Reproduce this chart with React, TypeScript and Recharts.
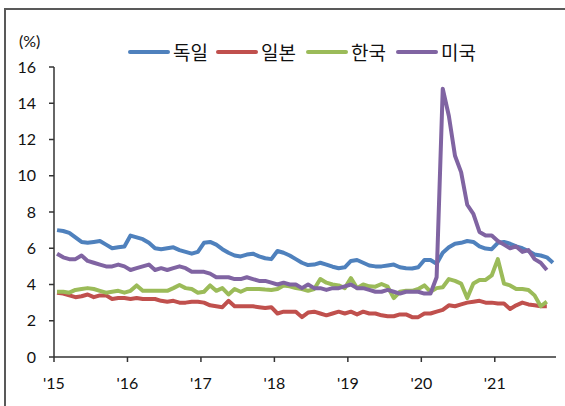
import { LineChart, Line, XAxis, YAxis } from 'recharts'

// monthly unemployment rate (%), Jan 2015 onward
const germany = [
  7.0, 6.95, 6.85, 6.6, 6.35, 6.3, 6.35, 6.4, 6.2, 6.0, 6.05, 6.1,
  6.7, 6.6, 6.5, 6.3, 6.0, 5.95, 6.0, 6.05, 5.9, 5.8, 5.7, 5.8,
  6.3, 6.35, 6.2, 5.95, 5.75, 5.6, 5.55, 5.65, 5.7, 5.55, 5.45, 5.4,
  5.85, 5.75, 5.6, 5.4, 5.2, 5.07, 5.1, 5.2, 5.1, 4.98, 4.9, 4.95,
  5.3, 5.35, 5.2, 5.05, 5.0, 5.0, 5.05, 5.1, 4.95, 4.9, 4.88, 4.95,
  5.35, 5.35, 5.15, 5.75, 6.05, 6.25, 6.3, 6.4, 6.35, 6.1, 5.98, 5.95,
  6.3, 6.35, 6.25, 6.1, 6.0, 5.85, 5.65, 5.6, 5.5, 5.2,
]
const japan = [
  3.55, 3.5, 3.4, 3.3, 3.35, 3.45, 3.3, 3.4, 3.4, 3.2, 3.25, 3.25,
  3.2, 3.25, 3.2, 3.2, 3.2, 3.1, 3.05, 3.1, 3.0, 3.0, 3.05, 3.05,
  3.0, 2.85, 2.8, 2.75, 3.1, 2.8, 2.8, 2.8, 2.8, 2.75, 2.7, 2.75,
  2.4, 2.5, 2.5, 2.5, 2.2, 2.45, 2.5, 2.4, 2.3, 2.4, 2.5, 2.4,
  2.5, 2.35, 2.5, 2.4, 2.4, 2.3, 2.25, 2.25, 2.35, 2.35, 2.2, 2.2,
  2.4, 2.4, 2.5, 2.6, 2.85, 2.8, 2.9, 3.0, 3.05, 3.1, 3.0, 3.0,
  2.95, 2.95, 2.65, 2.85, 3.0, 2.9, 2.85, 2.8, 2.8,
]
const korea = [
  3.6, 3.6, 3.55, 3.7, 3.75, 3.8, 3.75, 3.65, 3.55, 3.6, 3.65, 3.55,
  3.65, 3.95, 3.65, 3.65, 3.65, 3.65, 3.65, 3.8, 3.97, 3.8, 3.75, 3.55,
  3.6, 3.95, 3.65, 3.8, 3.45, 3.75, 3.6, 3.75, 3.75, 3.75, 3.72, 3.7,
  3.75, 3.95, 3.9, 3.8, 3.75, 3.65, 3.75, 4.3, 4.1, 4.0, 3.95, 3.8,
  4.35, 3.8, 4.0, 3.9, 3.88, 4.03, 3.88, 3.25, 3.6, 3.65, 3.65, 3.75,
  3.95, 3.6, 3.8, 3.85, 4.3, 4.2, 4.05, 3.25, 4.05, 4.25, 4.25, 4.5,
  5.4, 4.05, 3.95, 3.75, 3.75, 3.7, 3.4, 2.8, 3.05,
]
const usa = [
  5.7, 5.5, 5.4, 5.4, 5.6, 5.3, 5.2, 5.1, 5.0, 5.0, 5.1, 5.0,
  4.8, 4.9, 5.0, 5.1, 4.8, 4.9, 4.8, 4.9, 5.0, 4.9, 4.7, 4.7,
  4.7, 4.6, 4.4, 4.4, 4.4, 4.3, 4.3, 4.4, 4.3, 4.2, 4.2, 4.1,
  4.0, 4.1, 4.0, 4.0, 3.8, 4.0, 3.8, 3.8, 3.7, 3.8, 3.8, 3.9,
  4.0, 3.8, 3.8, 3.7, 3.6, 3.6, 3.7, 3.6, 3.5, 3.6, 3.6, 3.6,
  3.5, 3.5, 4.4, 14.8, 13.3, 11.1, 10.2, 8.4, 7.9, 6.9, 6.7, 6.7,
  6.4, 6.2, 6.0, 6.1, 5.8, 5.9, 5.4, 5.2, 4.8,
]

const yearLabels = ["'15", "'16", "'17", "'18", "'19", "'20", "'21"]
const yTicks = [0, 2, 4, 6, 8, 10, 12, 14, 16]

const series = [
  { key: 'de', name: '독일', color: '#4F81BD', values: germany },
  { key: 'jp', name: '일본', color: '#C0504D', values: japan },
  { key: 'kr', name: '한국', color: '#9BBB59', values: korea },
  { key: 'us', name: '미국', color: '#8064A2', values: usa },
]

// points sit in the middle of each month
const data = germany.map((_, i) => {
  const row: Record<string, number | null> = { t: i + 0.5 }
  series.forEach((s) => {
    row[s.key] = s.values[i] ?? null
  })
  return row
})

const tickFont = { fontSize: 16, fill: '#111', fontFamily: 'Lato, sans-serif' }
const axisColor = '#333'
const legendLeft = [128, 216, 306, 396]

export default function App() {
  return (
    <div
      style={{
        position: 'fixed',
        left: 0,
        top: 0,
        width: 565,
        height: 406,
        overflow: 'hidden',
        background: '#fff',
      }}
    >
      {/* outer frame */}
      <div
        style={{
          position: 'absolute',
          left: 4,
          top: 8,
          width: 620,
          height: 460,
          border: '2px solid #595959',
        }}
      />

      <div
        style={{
          position: 'absolute',
          left: 19,
          top: 33,
          fontSize: 16,
          lineHeight: '16px',
          fontFamily: 'Lato, sans-serif',
          color: '#111',
        }}
      >
        (%)
      </div>

      {/* Legend */}
      {series.map((s, i) => (
        <div
          key={s.key}
          style={{
            position: 'absolute',
            left: legendLeft[i],
            top: 40,
            height: 24,
            display: 'flex',
            alignItems: 'center',
            gap: 3,
          }}
        >
          <span
            style={{
              width: 42,
              height: 4,
              borderRadius: 2,
              background: s.color,
              display: 'inline-block',
            }}
          />
          <span
            style={{
              fontSize: 19,
              lineHeight: '24px',
              fontFamily: '"Noto Sans CJK KR", sans-serif',
              color: '#111',
            }}
          >
            {s.name}
          </span>
        </div>
      ))}

      <LineChart
        width={565}
        height={406}
        data={data}
        margin={{ top: 67, right: 9, left: 0, bottom: 0 }}
        style={{ position: 'absolute', left: 0, top: 0 }}
      >
        <XAxis
          type="number"
          dataKey="t"
          domain={[0, 82]}
          ticks={[0, 12, 24, 36, 48, 60, 72]}
          tickFormatter={(v: number) => yearLabels[v / 12]}
          height={49}
          tick={tickFont}
          tickSize={5}
          tickMargin={16}
          stroke={axisColor}
          strokeWidth={1.5}
          interval={0}
        />
        <YAxis
          domain={[0, 16]}
          ticks={yTicks}
          width={54}
          tick={tickFont}
          tickSize={5}
          tickMargin={13}
          stroke={axisColor}
          strokeWidth={1.5}
          interval={0}
        />
        {series.map((s) => (
          <Line
            key={s.key}
            type="linear"
            dataKey={s.key}
            name={s.name}
            stroke={s.color}
            strokeWidth={4}
            strokeLinejoin="round"
            dot={false}
            activeDot={false}
            isAnimationActive={false}
          />
        ))}
      </LineChart>
    </div>
  )
}
